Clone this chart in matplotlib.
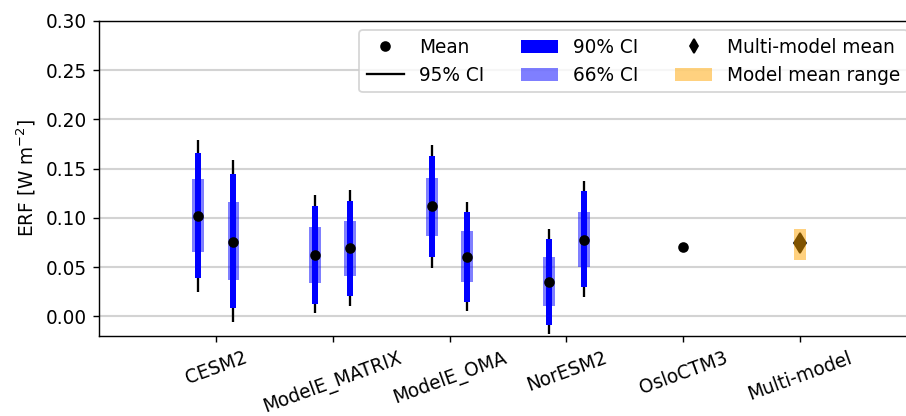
import matplotlib.pyplot as plt
from matplotlib.lines import Line2D
from matplotlib.patches import Patch
import numpy as np

# Data
models = ['CESM2', 'ModelE_MATRIX', 'ModelE_OMA', 'NorESM2', 'OsloCTM3', 'Multi-model']

# two estimates per model (left/right of tick) for the first four models
mean_vals = [[0.102, 0.076], [0.062, 0.069], [0.112, 0.060], [0.035, 0.078]]
ci95_lo = [[0.025, -0.006], [0.003, 0.010], [0.049, 0.005], [-0.018, 0.020]]
ci95_hi = [[0.179, 0.159], [0.123, 0.128], [0.174, 0.116], [0.089, 0.137]]
ci90_lo = [[0.039, 0.008], [0.013, 0.021], [0.060, 0.015], [-0.009, 0.030]]
ci90_hi = [[0.166, 0.145], [0.112, 0.117], [0.163, 0.106], [0.079, 0.127]]
ci66_lo = [[0.065, 0.037], [0.034, 0.041], [0.082, 0.035], [0.010, 0.050]]
ci66_hi = [[0.139, 0.116], [0.091, 0.097], [0.141, 0.087], [0.060, 0.106]]

oslo_mean = 0.070
multi_mean = 0.074
range_lo = 0.057
range_hi = 0.089

plt.rcParams['font.size'] = 10.5

fig = plt.figure(figsize=(906 / 127, 416 / 127), dpi=127)
ax = fig.add_axes([99 / 906, 80 / 416, 818 / 906, 315 / 416])

offsets = [-0.15, 0.15]
for i in range(4):
    for j, off in enumerate(offsets):
        x = i + off
        ax.vlines(x, ci95_lo[i][j], ci95_hi[i][j], color='black', lw=1.3, zorder=2)
        ax.bar(x, ci66_hi[i][j] - ci66_lo[i][j], bottom=ci66_lo[i][j], width=0.1,
               color='blue', alpha=0.5, zorder=3)
        ax.bar(x, ci90_hi[i][j] - ci90_lo[i][j], bottom=ci90_lo[i][j], width=0.05,
               color='blue', zorder=4)
        ax.plot(x, mean_vals[i][j], 'o', color='black', ms=5, zorder=5)

ax.plot(4, oslo_mean, 'o', color='black', ms=5, zorder=5)
ax.plot(5, multi_mean, 'd', color='black', ms=8, zorder=3)
ax.bar(5, range_hi - range_lo, bottom=range_lo, width=0.1, color='orange', alpha=0.5, zorder=4)

ax.set_xlim(-1, 6)
ax.set_ylim(-0.02, 0.30)
ax.set_yticks(np.arange(0, 0.31, 0.05))
ax.set_xticks(range(len(models)))
ax.set_xticklabels(models, rotation=20)
ax.set_ylabel('ERF [W m$^{-2}$]')
ax.grid(axis='y', color='lightgray', lw=1.2)
ax.set_axisbelow(True)

handles = [
    Line2D([], [], marker='o', color='black', ls='none', ms=5),
    Line2D([], [], color='black', lw=1.3),
    Patch(facecolor='blue', edgecolor='none'),
    Patch(facecolor='blue', alpha=0.5, edgecolor='none'),
    Line2D([], [], marker='d', color='black', ls='none', ms=6),
    Patch(facecolor='orange', alpha=0.5, edgecolor='none'),
]
labels = ['Mean', '95% CI', '90% CI', '66% CI', 'Multi-model mean', 'Model mean range']
ax.legend(handles, labels, ncol=3, loc='upper right')

fig.savefig('out.png', dpi=127)
